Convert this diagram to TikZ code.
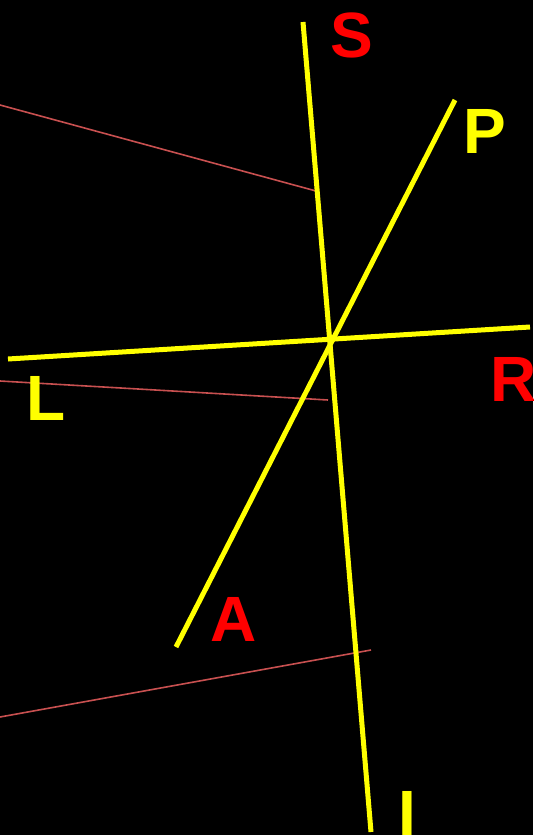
\documentclass[tikz,border=0pt]{standalone}
\usepackage{fontspec}
\setmainfont{Liberation Sans}

\definecolor{axiscolor}{RGB}{255,255,0}
\definecolor{markcolor}{RGB}{255,0,0}
\definecolor{tracecolor}{RGB}{200,80,80}

\begin{document}
\begin{tikzpicture}[
    x=1pt, y=-1pt,
    %% pixel grid of the reference: origin top left, y grows downwards
    axis/.style={draw=axiscolor, line width=5pt},
    trace/.style={draw=tracecolor, line width=1.6pt},
    lbl/.style={anchor=base, inner sep=0pt, font=\fontsize{64}{64}\selectfont\bfseries},
    ylbl/.style={lbl, text=axiscolor},
    rlbl/.style={lbl, text=markcolor},
]

%% ── Background / frame ───────────────────────────────────────────────────
\fill[black] (0,0) rectangle (533,835);
\useasboundingbox (0,0) rectangle (533,835);

%% ── End points ───────────────────────────────────────────────────────────
\coordinate (sTop)  at (303,22);
\coordinate (sBot)  at (371,832);
\coordinate (pTop)  at (455,100);
\coordinate (pBot)  at (176,647);
\coordinate (lEnd)  at (8,359);
\coordinate (rEnd)  at (530,327);

\coordinate (t1a) at (0,105);
\coordinate (t1b) at (316,191);
\coordinate (t2a) at (0,381);
\coordinate (t2b) at (328,400);
\coordinate (t3a) at (0,717);
\coordinate (t3b) at (371,650);

%% ── Thin traces ──────────────────────────────────────────────────────────
\draw[trace] (t1a) -- (t1b);
\draw[trace] (t2a) -- (t2b);
\draw[trace] (t3a) -- (t3b);

%% ── Axes ─────────────────────────────────────────────────────────────────
\draw[axis] (sTop) -- (sBot);
\draw[axis] (pTop) -- (pBot);
\draw[axis] (lEnd) -- (rEnd);

%% ── Labels ───────────────────────────────────────────────────────────────
\node[rlbl] (S) at (352,57)  {S};
\node[ylbl] (P) at (485,153) {P};
\node[rlbl] (R) at (514,401) {R};
\node[ylbl] (L) at (46,420)  {L};
\node[rlbl] (A) at (234,641) {A};
\node[ylbl] (I) at (407,835) {I};

\end{tikzpicture}
\end{document}
